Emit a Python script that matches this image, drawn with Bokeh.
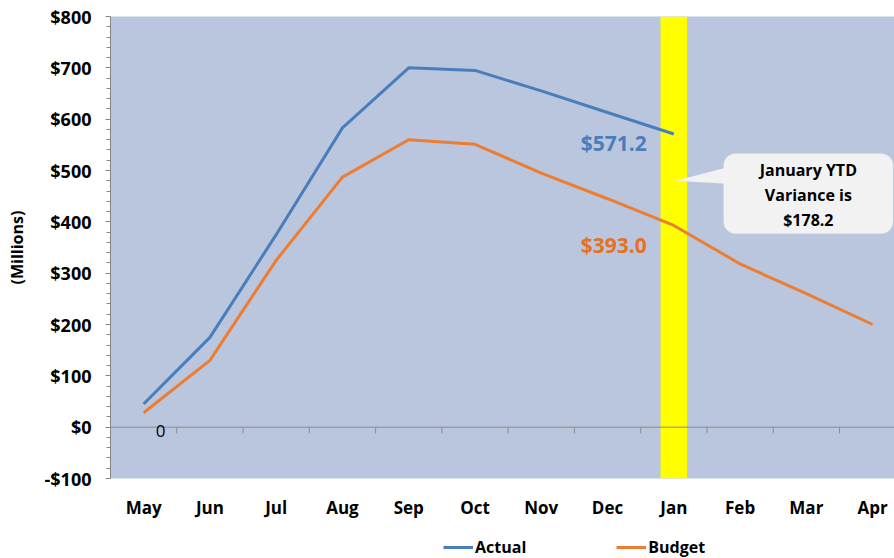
from bokeh.plotting import figure
from bokeh.layouts import column
from bokeh.models import (Range1d, BoxAnnotation, Span, Legend, LegendItem,
                          CustomJSTickFormatter, FixedTicker)
from bokeh.embed import file_html
from bokeh.resources import INLINE
from bokeh.core.properties import value

months = ["May", "Jun", "Jul", "Aug", "Sep", "Oct", "Nov", "Dec", "Jan", "Feb", "Mar", "Apr"]
actual = [45, 175, 375, 583, 700, 695, 655, 613, 571.2]
budget = [28, 130, 325, 487, 560, 551, 495, 445, 393.0, 318, 260, 200]
y_ticks = [-100, 0, 100, 200, 300, 400, 500, 600, 700, 800]
y_minor = list(range(-100, 801, 20))
series_names = ["Actual", "Budget"]

FONT = value("Open Sans")
BLUE = "#4A7EBB"
ORANGE = "#ED7D31"
x_idx = list(range(len(months)))
jan = months.index("Jan")

p = figure(width=894, height=530, output_backend="svg", toolbar_location=None,
           x_range=Range1d(-0.5, 11.33), y_range=Range1d(-100, 800),
           min_border_left=110, min_border_right=0, min_border_top=16, min_border_bottom=52)
p.background_fill_color = "#B9C6DE"
p.border_fill_color = "white"
p.outline_line_color = None
p.grid.visible = False

# x axis
xa = p.xaxis[0]
xa.ticker = FixedTicker(ticks=x_idx)
xa.major_label_overrides = {i: m for i, m in enumerate(months)}
xa.axis_line_color = None
xa.major_tick_line_color = None
xa.minor_tick_line_color = None
xa.major_tick_out = 0
xa.major_tick_in = 0
xa.minor_tick_out = 0
xa.major_label_standoff = 17
xa.major_label_text_font = "Open Sans"
xa.major_label_text_font_style = "bold"
xa.major_label_text_font_size = "17px"
xa.major_label_text_color = "black"

# y axis
ya = p.yaxis[0]
ya.ticker = FixedTicker(ticks=y_ticks, minor_ticks=y_minor)
ya.formatter = CustomJSTickFormatter(code="return (tick < 0 ? '-' : '') + '$' + Math.abs(tick);")
ya.axis_line_color = "#868686"
ya.major_tick_line_color = "#868686"
ya.minor_tick_line_color = "#868686"
ya.major_tick_in = 0
ya.major_tick_out = 5
ya.minor_tick_in = 0
ya.minor_tick_out = 4
ya.major_label_standoff = 14
ya.major_label_text_font = "Open Sans"
ya.major_label_text_font_style = "bold"
ya.major_label_text_font_size = "18px"
ya.major_label_text_color = "black"
ya.axis_label = "(Millions)"
ya.axis_label_text_font = "Open Sans"
ya.axis_label_text_font_style = "bold"
ya.axis_label_text_font_size = "16px"
ya.axis_label_text_color = "black"
ya.axis_label_standoff = 14

# yellow highlight on January
band = BoxAnnotation(left=jan - 0.2, right=jan + 0.2, fill_color="#FFFF00", fill_alpha=1,
                     line_color=None, level="underlay")
p.add_layout(band)

# zero line with category-boundary ticks
p.add_layout(Span(location=0, dimension="width", line_color="#8C8C8C", line_width=1, level="underlay"))
bx = [i + 0.5 for i in x_idx[:-1]]
p.segment(x0=bx, y0=[0] * len(bx), x1=bx, y1=[-12] * len(bx), line_color="#8C8C8C", line_width=1)

# callout
box = BoxAnnotation(left=8.75, right=11.31, bottom=377, top=533, fill_color="#F2F2F2", fill_alpha=1,
                    line_color="#DADADA", line_width=1, border_radius=12, level="underlay")
p.add_layout(box)
p.patch(x=[8.8, jan + 0.03, 8.8], y=[506, 480, 474], fill_color="#F2F2F2", line_color=None)

p.line(x_idx[:len(actual)], actual, line_color=BLUE, line_width=3)
p.line(x_idx, budget, line_color=ORANGE, line_width=3)

p.text(x=[jan], y=[actual[jan]], text=[f"${actual[jan]:.1f}"], x_offset=-27, y_offset=9,
       text_align="right", text_baseline="middle", text_color=BLUE, text_font=FONT,
       text_font_style="bold", text_font_size="21px")
p.text(x=[jan], y=[budget[jan]], text=[f"${budget[jan]:.1f}"], x_offset=-27, y_offset=20,
       text_align="right", text_baseline="middle", text_color="#E8701E", text_font=FONT,
       text_font_style="bold", text_font_size="21px")

var = actual[jan] - budget[jan]
cx = (8.75 + 11.31) / 2
cy = (377 + 533) / 2
p.text(x=[cx] * 3, y=[cy] * 3, text=["January YTD", "Variance is", f"${var:.1f}"],
       y_offset=[-24, 1, 26], text_align="center", text_baseline="middle", text_color="black",
       text_font=FONT, text_font_style="bold", text_font_size="16px")

p.text(x=[0], y=[0], text=["0"], x_offset=17, y_offset=4, text_align="center",
       text_baseline="middle", text_color="black", text_font=FONT, text_font_size="17px")

# legend strip below the chart (series drawn off-range; only the legend shows)
lg = figure(width=894, height=28, output_backend="svg", toolbar_location=None,
            x_axis_type=None, y_axis_type=None, x_range=Range1d(0, 1), y_range=Range1d(0, 1),
            min_border_left=0, min_border_right=0, min_border_top=0, min_border_bottom=0)
lg.outline_line_color = None
lg.grid.visible = False
l_act = lg.line(x_idx[:len(actual)], actual, line_color=BLUE, line_width=3)
l_bud = lg.line(x_idx, budget, line_color=ORANGE, line_width=3)
legend = Legend(items=[LegendItem(label=series_names[0], renderers=[l_act]),
                       LegendItem(label=series_names[1], renderers=[l_bud])],
                orientation="horizontal", location=(333, 0), border_line_color=None,
                background_fill_alpha=0, label_text_font="Open Sans", label_text_font_style="bold",
                label_text_font_size="16px", label_text_color="black", glyph_width=30,
                glyph_height=18, spacing=90, margin=0, padding=0, label_standoff=2, label_height=18)
lg.add_layout(legend)

open("out.html", "w").write(file_html(column(p, lg, spacing=0), INLINE))
